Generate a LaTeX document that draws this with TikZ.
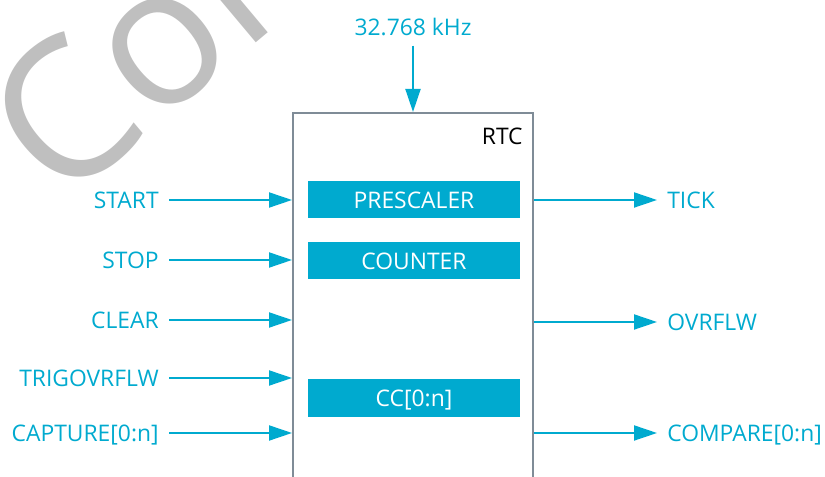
\documentclass[tikz,border=0pt]{standalone}
\usepackage{fontspec}
\setmainfont{Open Sans}
\usetikzlibrary{arrows.meta, positioning, calc}
\definecolor{rtcblue}{HTML}{00AACF}
\definecolor{rtcgray}{HTML}{7F8C97}
\definecolor{markgray}{HTML}{BFBFBF}

\begin{document}
\begin{tikzpicture}[
  sig/.style={text=rtcblue, font=\fontsize{13}{15}\selectfont, inner xsep=0.2cm, inner ysep=0.2cm, text height=0.327cm, text depth=0pt},
  wire/.style={draw=rtcblue, line width=1.1pt, -{Triangle[length=0.46cm, width=0.3cm]}},
  unit/.style={rectangle, fill=rtcblue, text=white, minimum width=4.24cm, minimum height=0.74cm, inner sep=0pt, font=\fontsize{13}{15}\selectfont, text height=0.327cm, text depth=0pt}]
  \clip (0,0) rectangle (16.5,-9.54);
  \node[text=markgray, font=\fontsize{110}{120}\selectfont, rotate=40, anchor=base west, inner sep=0pt] (mark) at (1.2,-4.15) {Con};

  \node[draw=rtcgray, line width=1.1pt, minimum width=4.8cm, minimum height=8cm, anchor=north] (rtc) at (8.26,-2.24) {};
  \node[anchor=east, inner sep=0pt, font=\fontsize{13}{15}\selectfont] (rtcname) at (10.46,-2.72) {RTC};
  \node[unit] (pre) at (8.28,-4.0) {PRESCALER};
  \node[unit] (cnt) at (8.28,-5.22) {COUNTER};
  \node[unit, minimum height=0.76cm] (cc) at (8.28,-7.96) {CC[0:n]};

  \node[sig] (clk) at (8.26,-0.54) {32.768 kHz};
  \draw[wire] (clk) -- (clk |- rtc.north);

  \node[sig, anchor=east] (start) at (3.38,-4.0) {START};
  \node[sig, anchor=east] (stop) at (3.38,-5.2) {STOP};
  \node[sig, anchor=east] (clear) at (3.38,-6.4) {CLEAR};
  \node[sig, anchor=east] (trig) at (3.38,-7.56) {TRIGOVRFLW};
  \node[sig, anchor=east] (capture) at (3.38,-8.66) {CAPTURE[0:n]};
  \foreach \n in {start, stop, clear, trig, capture}
    \draw[wire] (\n) -- (\n -| rtc.west);

  \node[sig, anchor=west] (tick) at (13.14,-4.0) {TICK};
  \node[sig, anchor=west] (ovrflw) at (13.14,-6.44) {OVRFLW};
  \node[sig, anchor=west] (compare) at (13.14,-8.66) {COMPARE[0:n]};
  \foreach \n in {tick, ovrflw, compare}
    \draw[wire] (\n -| rtc.east) -- (\n);
\end{tikzpicture}
\end{document}
